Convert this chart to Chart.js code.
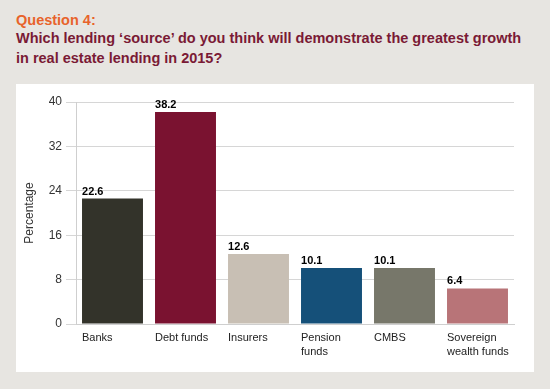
<!DOCTYPE html>
<html>
<head>
<meta charset="utf-8">
<script src="https://cdn.jsdelivr.net/npm/chart.js@4.4.0/dist/chart.umd.min.js"></script>
<style>
  html, body { margin: 0; padding: 0; }
  body { width: 550px; height: 389px; background: #e7e5e1; position: relative; overflow: hidden;
         font-family: "Liberation Sans", Arial, sans-serif; }
  .q { position: absolute; left: 16px; top: 12px; font-size: 14.5px; line-height: 17px; font-weight: bold; color: #e8632b; }
  .t { position: absolute; left: 16px; top: 29px; font-size: 14.5px; font-weight: bold; color: #7a1a35; line-height: 19.5px; }
  .panel { position: absolute; left: 16px; top: 84px; width: 518px; height: 288px; background: #fff; }
</style>
</head>
<body>
<div class="q">Question 4:</div>
<div class="t">Which lending ‘source’ do you think will demonstrate the greatest growth<br>in real estate lending in 2015?</div>
<div class="panel"><canvas id="c" width="518" height="288"></canvas></div>
<script>
var categories = [['Banks'], ['Debt funds'], ['Insurers'], ['Pension', 'funds'], ['CMBS'], ['Sovereign', 'wealth funds']];
var values = [22.6, 38.2, 12.6, 10.1, 10.1, 6.4];
var barColors = ['#33332a', '#7a1230', '#c8bfb4', '#155079', '#77776a', '#b87478'];
var yTicks = [0, 8, 16, 24, 32, 40];

// value labels above each bar, left aligned with the bar edge
var valueLabels = {
  id: 'valueLabels',
  afterDatasetsDraw: function (chart) {
    var ctx = chart.ctx;
    var meta = chart.getDatasetMeta(0);
    ctx.save();
    ctx.font = 'bold 11px "Liberation Sans", Arial, sans-serif';
    ctx.fillStyle = '#000';
    ctx.textAlign = 'left';
    ctx.textBaseline = 'alphabetic';
    meta.data.forEach(function (bar, i) {
      ctx.fillText(values[i].toFixed(1), bar.x - bar.width / 2, bar.y - 4);
    });
    ctx.restore();
  }
};

new Chart(document.getElementById('c'), {
  type: 'bar',
  data: {
    labels: categories,
    datasets: [{
      data: values,
      backgroundColor: barColors,
      barPercentage: 0.835,
      categoryPercentage: 1
    }]
  },
  options: {
    responsive: false,
    animation: false,
    layout: { padding: { top: 18, right: 20, left: 0, bottom: 0 } },
    plugins: { legend: { display: false }, tooltip: { enabled: false } },
    scales: {
      x: {
        grid: { display: false, drawTicks: false },
        border: { display: true, color: '#cfcfcf', width: 1 },
        ticks: {
          align: 'start',
          labelOffset: -30.5,
          padding: 7,
          color: '#222',
          font: { family: '"Liberation Sans", Arial, sans-serif', size: 11, lineHeight: 1.3 }
        },
        afterFit: function (s) { s.height = 48; s.paddingLeft = 0; s.paddingRight = 0; }
      },
      y: {
        min: 0, max: 40,
        afterBuildTicks: function (s) { s.ticks = yTicks.map(function (v) { return { value: v }; }); },
        grid: { color: '#d6d6d6', tickLength: 10 },
        border: { display: true, color: '#cfcfcf' },
        ticks: {
          color: '#333',
          padding: 4,
          font: { family: '"Liberation Sans", Arial, sans-serif', size: 12 }
        },
        title: {
          display: true,
          text: 'Percentage',
          color: '#333',
          padding: { top: 6, bottom: 0 },
          font: { family: '"Liberation Sans", Arial, sans-serif', size: 12 }
        },
        afterFit: function (s) { s.width = 60; }
      }
    }
  },
  plugins: [valueLabels]
});
</script>
</body>
</html>
